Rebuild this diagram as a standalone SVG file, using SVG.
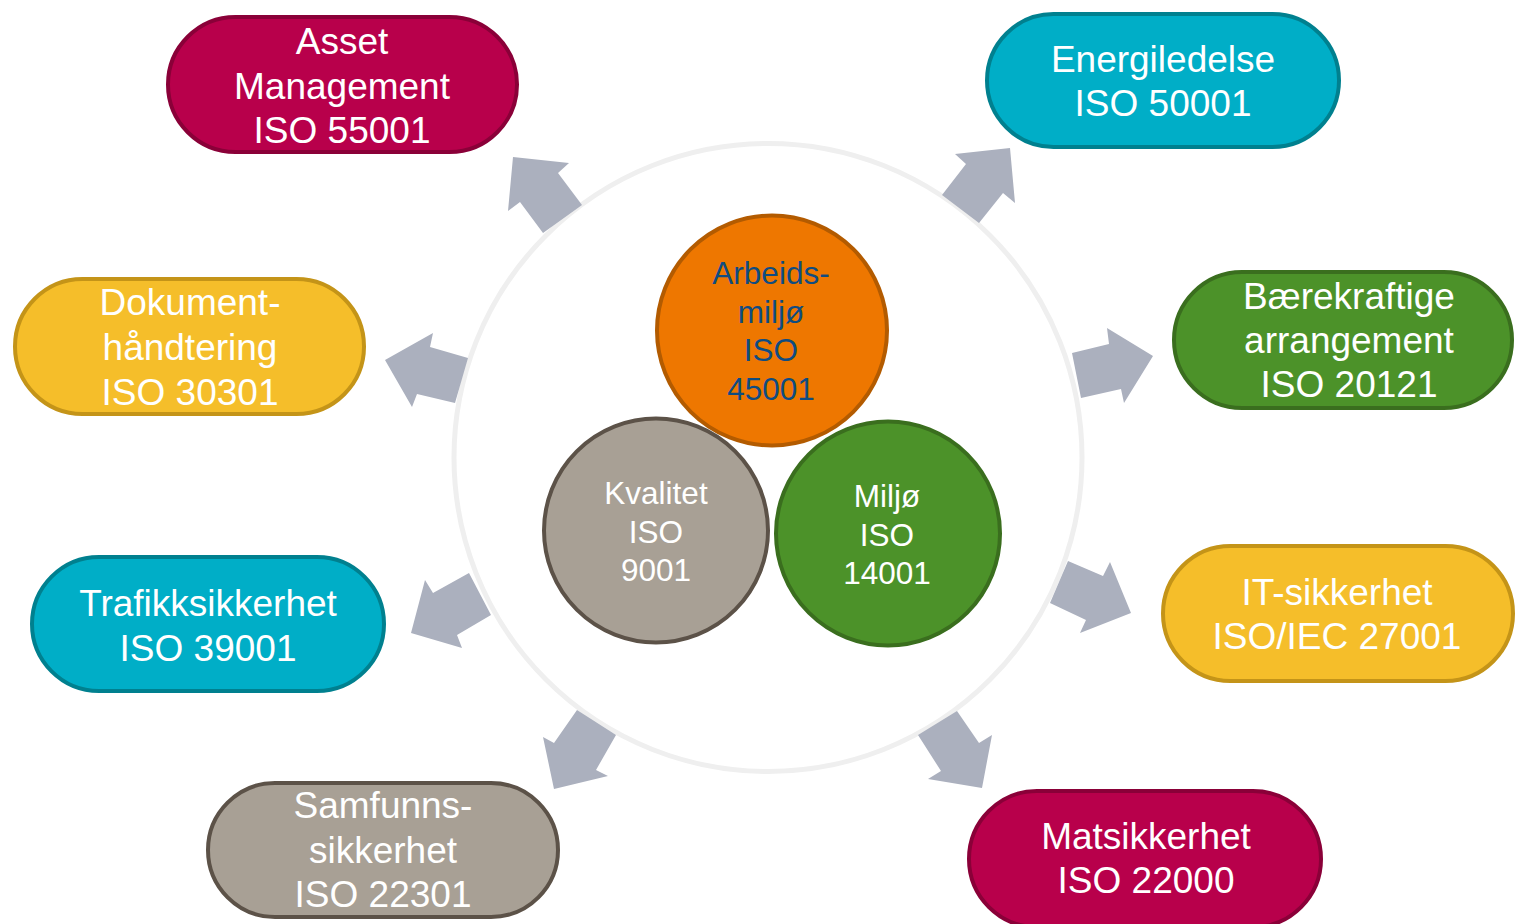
<svg xmlns="http://www.w3.org/2000/svg" width="1515" height="924" viewBox="0 0 1515 924">
<style>
.box{stroke-width:4}
.mag{fill:#B8004B;stroke:#8A0038}
.teal{fill:#00AEC7;stroke:#00808F}
.grn{fill:#4C9229;stroke:#3A6E1E}
.yel{fill:#F5BE2A;stroke:#C49418}
.gry{fill:#A8A095;stroke:#5C5248}
.t{font-family:"Liberation Sans",Arial,sans-serif;font-size:37px;fill:#fff;text-anchor:middle}
.c{font-family:"Liberation Sans",Arial,sans-serif;font-size:31.5px;text-anchor:middle}
.arr{fill:#ABB0BE}
</style>
<rect width="1515" height="924" fill="#fff"/>
<circle cx="768" cy="457.5" r="314" fill="none" stroke="#EFEFEF" stroke-width="5"/>
<g id="connectors">
<polygon class="arr" points="513,157 569,163 558,173 582,205 543,233 520,202 508,211"/>
<polygon class="arr" points="1010,148 1015,203 1003,193 979,223 942,195 966,164 955,154"/>
<polygon class="arr" points="385,360 433,333 430,347 468,358 455,403 417,394 412,407"/>
<polygon class="arr" points="1153,356 1124,403 1121,389 1081,398 1072,353 1109,344 1107,328"/>
<polygon class="arr" points="411,633 425,580 433,593 469,573 491,615 457,635 462,648"/>
<polygon class="arr" points="1131,613 1080,633 1086,620 1050,603 1068,561 1103,576 1110,562"/>
<polygon class="arr" points="554,789 543,737 554,743 577,710 616,735 596,770 608,776"/>
<polygon class="arr" points="982,788 928,779 941,771 918,735 957,711 979,743 992,735"/>
</g>
<g id="arbeidsmiljo">
<circle cx="772" cy="330.5" r="115" fill="#EE7700" stroke="#B35B00" stroke-width="4"/>
<text class="c" fill="#0F4C81" x="771" y="284">Arbeids-</text>
<text class="c" fill="#0F4C81" x="771" y="322.5">miljø</text>
<text class="c" fill="#0F4C81" x="771" y="361">ISO</text>
<text class="c" fill="#0F4C81" x="771" y="399.5">45001</text>
</g>
<g id="kvalitet">
<circle cx="656" cy="530.5" r="112" fill="#A8A095" stroke="#5C5248" stroke-width="4"/>
<text class="c" fill="#fff" x="656" y="504">Kvalitet</text>
<text class="c" fill="#fff" x="656" y="542.5">ISO</text>
<text class="c" fill="#fff" x="656" y="581">9001</text>
</g>
<g id="miljo">
<circle cx="888" cy="533.5" r="112" fill="#4C9229" stroke="#3A6E1E" stroke-width="4"/>
<text class="c" fill="#fff" x="887" y="507">Miljø</text>
<text class="c" fill="#fff" x="887" y="545.5">ISO</text>
<text class="c" fill="#fff" x="887" y="584">14001</text>
</g>
<g id="asset">
<rect class="box mag" x="168" y="17" width="349" height="135" rx="67.5"/>
<text class="t" x="342" y="54">Asset</text>
<text class="t" x="342" y="99">Management</text>
<text class="t" x="342" y="143">ISO 55001</text>
</g>
<g id="energi">
<rect class="box teal" x="987" y="14" width="352" height="133" rx="66.5"/>
<text class="t" x="1163" y="72">Energiledelse</text>
<text class="t" x="1163" y="116">ISO 50001</text>
</g>
<g id="dokument">
<rect class="box yel" x="15" y="279" width="349" height="135" rx="67.5"/>
<text class="t" x="190" y="315">Dokument-</text>
<text class="t" x="190" y="360">håndtering</text>
<text class="t" x="190" y="405">ISO 30301</text>
</g>
<g id="baerekraft">
<rect class="box grn" x="1174" y="272" width="338" height="136" rx="68"/>
<text class="t" x="1349" y="309">Bærekraftige</text>
<text class="t" x="1349" y="353">arrangement</text>
<text class="t" x="1349" y="397">ISO 20121</text>
</g>
<g id="trafikk">
<rect class="box teal" x="32" y="557" width="352" height="134" rx="67"/>
<text class="t" x="208" y="616">Trafikksikkerhet</text>
<text class="t" x="208" y="661">ISO 39001</text>
</g>
<g id="it">
<rect class="box yel" x="1163" y="546" width="350" height="135" rx="67.5"/>
<text class="t" x="1337" y="605">IT-sikkerhet</text>
<text class="t" x="1337" y="649">ISO/IEC 27001</text>
</g>
<g id="samfunn">
<rect class="box gry" x="208" y="783" width="350" height="134" rx="67"/>
<text class="t" x="383" y="818">Samfunns-</text>
<text class="t" x="383" y="863">sikkerhet</text>
<text class="t" x="383" y="907">ISO 22301</text>
</g>
<g id="mat">
<rect class="box mag" x="969" y="791" width="352" height="136" rx="68"/>
<text class="t" x="1146" y="849">Matsikkerhet</text>
<text class="t" x="1146" y="893">ISO 22000</text>
</g>
</svg>
